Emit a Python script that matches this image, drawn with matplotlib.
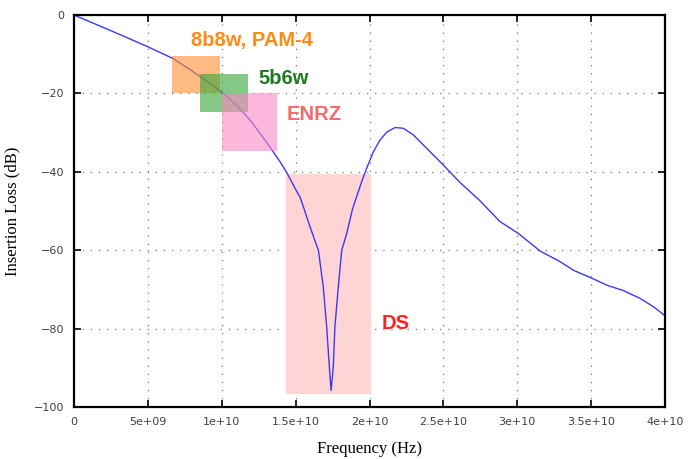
import matplotlib
matplotlib.use("Agg")
import matplotlib.pyplot as plt
from matplotlib.patches import Rectangle

# curve
freq = [0, 1e9, 2.5e9, 5e9, 6.7e9, 8e9, 9e9, 1.0e10, 1.1e10, 1.15e10, 1.2e10,
        1.3e10, 1.35e10, 1.394e10, 1.44e10, 1.496e10, 1.53e10, 1.552e10,
        1.597e10, 1.654e10, 1.687e10, 1.71e10, 1.728e10, 1.74e10, 1.755e10,
        1.766e10, 1.789e10, 1.812e10, 1.846e10, 1.885e10, 1.947e10, 1.985e10,
        2.026e10, 2.071e10, 2.116e10, 2.173e10, 2.229e10, 2.297e10, 2.387e10,
        2.5e10, 2.612e10, 2.748e10, 2.883e10, 3.007e10, 3.154e10, 3.289e10,
        3.379e10, 3.508e10, 3.605e10, 3.718e10, 3.831e10, 3.921e10, 4.0e10]
loss = [0, -1.6, -4.0, -8.1, -11.1, -14.3, -16.9, -19.7, -23.0, -25.0, -27.2,
        -32.3, -35.0, -37.4, -40.2, -44.2, -46.5, -48.9,
        -54.0, -60.0, -69.3, -79.5, -89.7, -95.8, -89.7,
        -79.5, -69.3, -60.0, -55.7, -49.5, -42.5, -38.7,
        -34.9, -31.9, -29.9, -28.7, -28.9, -30.6, -34.0,
        -38.3, -42.7, -47.4, -52.7, -55.7, -60.2, -62.9,
        -65.1, -67.2, -68.9, -70.3, -72.3, -74.4, -76.7]

# shaded bands: (label, x0, x1, y_low, y_high)
band_names = ["8b8w, PAM-4", "5b6w", "ENRZ", "DS"]
band_x0 = [6.65e9, 8.55e9, 1.0e10, 1.435e10]
band_x1 = [9.9e9, 1.175e10, 1.374e10, 2.008e10]
band_lo = [-20.0, -24.7, -34.7, -96.6]
band_hi = [-10.4, -15.1, -20.0, -40.5]
band_colors = ["#ff8f30", "#3aa53a", "#fb87c6", "#ffd4d4"]
band_alpha = [0.6, 0.62, 0.6, 1.0]

label_x = [7.95e9, 1.245e10, 1.44e10, 2.08e10]
label_y = [-6.6, -16.2, -25.5, -78.7]
label_colors = ["#ff8a14", "#1f7a1f", "#f86a6a", "#ff2020"]

x_ticks = [0, 5e9, 1e10, 1.5e10, 2e10, 2.5e10, 3e10, 3.5e10, 4e10]
x_ticklabels = ["0", "5e+09", "1e+10", "1.5e+10", "2e+10", "2.5e+10",
                "3e+10", "3.5e+10", "4e+10"]
y_ticks = [0, -20, -40, -60, -80, -100]
y_ticklabels = ["0", "\u221220", "\u221240", "\u221260", "\u221280", "\u2212100"]

fig = plt.figure(figsize=(6.89, 4.59), dpi=100)
ax = fig.add_axes([0.1074, 0.1133, 0.8578, 0.854])

ax.plot(freq, loss, color="#3a3af5", lw=1.0, zorder=2)

for i in range(len(band_names)):
    r = Rectangle((band_x0[i], band_lo[i]), band_x1[i] - band_x0[i],
                  band_hi[i] - band_lo[i], facecolor=band_colors[i],
                  alpha=band_alpha[i], edgecolor="none",
                  zorder=3 if i < 3 else 1)
    ax.add_patch(r)
    ax.text(label_x[i], label_y[i], band_names[i], color=label_colors[i],
            fontsize=14.5, fontweight="bold", va="center", ha="left",
            family="Liberation Sans", zorder=4)

ax.set_xlim(0, 4e10)
ax.set_ylim(-100, 0)
ax.set_xticks(x_ticks)
ax.set_xticklabels(x_ticklabels)
ax.set_yticks(y_ticks)
ax.set_yticklabels(y_ticklabels)
ax.tick_params(direction="in", length=5, width=1.2, top=True, right=True,
               labelsize=8, labelcolor="#404040", pad=7)
for lab in ax.get_xticklabels() + ax.get_yticklabels():
    lab.set_family("DejaVu Sans")

ax.grid(True, linestyle=(0, (1, 5.5)), color="#777777", lw=0.9, zorder=0)
ax.set_axisbelow(True)
for s in ax.spines.values():
    s.set_linewidth(1.6)

ax.set_xlabel("Frequency (Hz)", family="Liberation Serif", fontsize=12, labelpad=10)
ax.set_ylabel("Insertion Loss (dB)", family="Liberation Serif", fontsize=12, labelpad=10)

fig.savefig("out.png", dpi=100)
